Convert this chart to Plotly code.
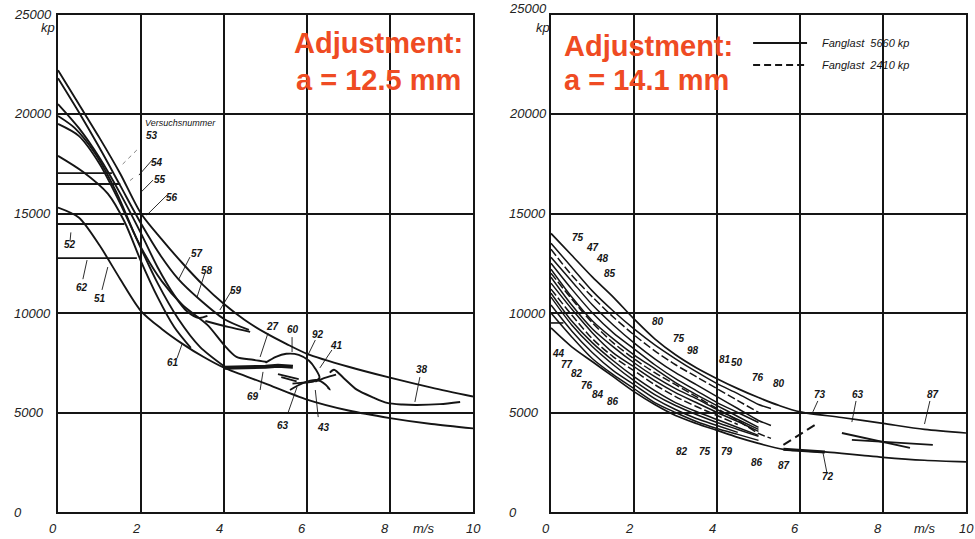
import plotly.graph_objects as go

# ---------------- data (left panel: a = 12.5 mm) ----------------
L_top_x = [0, 0.5, 1, 1.5, 2, 2.5, 3, 3.5, 4, 4.5, 5, 5.5, 6, 7, 8, 9, 10]
L_top_y = [22200, 20500, 18800, 17000, 15000, 13700, 12500, 11400, 10450, 9650, 9000, 8450, 7950, 7300, 6750, 6250, 5800]
L57_x = [0, 0.5, 1, 1.5, 2, 2.5, 2.9, 3.4, 4, 4.6]
L57_y = [21800, 20100, 18300, 16400, 14500, 12800, 11700, 10700, 9700, 9150]
L58_x = [0, 0.5, 1, 1.5, 2, 2.4, 2.8, 3.1, 3.4, 3.6]
L58_y = [20500, 19300, 17800, 16000, 14000, 12300, 10900, 10100, 9750, 9850]
LD_x = [0, 0.4, 0.9, 1.4, 1.9, 2.4, 2.9, 3.42, 4.02]
LD_y = [19900, 19300, 18000, 16100, 13700, 11500, 9700, 8300, 7300]
LE_x = [0, 0.5, 1, 1.5, 2, 2.5, 3, 3.6, 4.0, 4.3, 4.7, 5.04]
LE_y = [19500, 18900, 17500, 15500, 13300, 11600, 10400, 9400, 8400, 7800, 7650, 7540]
L61_x = [0, 0.6, 1.2, 1.6, 2, 2.4, 2.8, 3.2]
L61_y = [17900, 17100, 16000, 14600, 12600, 10800, 9300, 8250]
Llow_x = [0, 0.5, 1, 1.5, 2, 2.5, 3, 3.5, 4, 5, 6, 7, 8, 9, 10]
Llow_y = [15300, 14800, 13400, 11700, 10100, 9200, 8450, 7800, 7250, 6450, 5650, 5100, 4720, 4420, 4200]
L59_x = [3.55, 4.1, 4.63]
L59_y = [9600, 9300, 9050]
Lbold_x = [4.0, 4.5, 5.0, 5.3, 5.66]
Lbold_y = [7250, 7250, 7300, 7350, 7300]
L60_x = [5.0, 5.25, 5.5, 5.8, 6.05, 6.2, 6.3, 6.15, 5.9, 5.65]
L60_y = [7500, 7800, 7950, 7900, 7600, 7200, 6750, 6550, 6500, 6450]
L63a_x = [5.3, 5.8]
L63a_y = [6930, 6680]
L63b_x = [5.38, 5.75]
L63b_y = [6780, 6560]
L43_x = [5.59, 5.9, 6.24, 6.45, 6.55, 6.5]
L43_y = [6130, 6480, 6630, 6400, 6150, 6250]
L41_x = [6.2, 6.45, 6.7]
L41_y = [6550, 6750, 6900]
L38_x = [6.55, 6.65, 6.9, 7.2, 7.6, 7.93, 8.3, 8.65, 9.2, 9.69]
L38_y = [7000, 7150, 6700, 6150, 5750, 5480, 5400, 5380, 5420, 5530]
L_hor_y = [17030, 16480, 14470, 12760]
L_hor_end = [1.3, 1.5, 1.6, 1.9]

L_labels = [("53", 2.26, 18900), ("54", 2.38, 17540), ("55", 2.46, 16730), ("56", 2.75, 15780),
            ("57", 3.35, 13000), ("58", 3.6, 12160), ("59", 4.3, 11150), ("52", 0.29, 13420),
            ("62", 0.58, 11300), ("51", 1.01, 10750), ("61", 2.78, 7490), ("27", 5.18, 9300),
            ("60", 5.66, 9150), ("92", 6.27, 8900), ("41", 6.72, 8390), ("69", 4.7, 5780),
            ("63", 5.42, 4370), ("43", 6.39, 4270), ("38", 8.77, 7140)]
L_leaders = [(2.27, 17690, 1.95, 16930), (2.29, 16680, 1.98, 16030), (2.63, 15930, 2.14, 14920),
             (3.18, 12810, 2.9, 11660), (3.54, 12010, 3.35, 10800), (4.19, 11150, 3.9, 10150),
             (0.31, 14050, 0.29, 13600), (0.70, 12660, 0.6, 11700), (1.2, 12310, 1.06, 11160),
             (2.99, 8440, 2.87, 7740), (5.06, 8990, 4.87, 7790), (5.64, 8790, 5.64, 8040),
             (6.2, 8640, 6.0, 7790), (6.6, 8140, 6.31, 7240), (4.94, 7040, 4.87, 6130),
             (5.76, 6280, 5.54, 4970), (6.2, 6130, 6.27, 4770), (8.72, 6780, 8.6, 5530)]
L_dashed_leaders = [(1.9, 18190, 1.49, 17340), (1.81, 16780, 1.69, 16580)]

# ---------------- data (right panel: a = 14.1 mm) ----------------
R_x = [0, 0.5, 1, 1.5, 2, 2.5, 3, 3.5, 4, 4.5, 5, 5.3]
R_top_x = [0, 0.5, 1, 1.5, 2, 2.5, 3, 3.5, 4, 4.5, 5, 5.5, 6, 7, 8, 9, 10]
R_top_y = [14000, 12900, 11800, 10800, 9700, 8700, 7900, 7250, 6700, 6200, 5750, 5350, 5030, 4750, 4450, 4150, 3970]
R_curves_y = [
    [13500, 12300, 11100, 10100, 9200, 8400, 7700, 7050, 6450, 5950, 5400, 5200],
    [13200, 11900, 10800, 9800, 8900, 8100, 7400, 6800, 6200, 5600, 5000],
    [12800, 11600, 10400, 9400, 8500, 7700, 7000, 6400, 5800, 5200, 4600, 4350],
    [12500, 11200, 10000, 9000, 8200, 7400, 6700, 6100, 5500, 5000, 4500],
    [12200, 10800, 9600, 8700, 7900, 7200, 6500, 5900, 5350, 4800, 4250],
    [12000, 10700, 9500, 8500, 7700, 7000, 6400, 5800, 5200, 4600, 3950, 3700],
    [11800, 10400, 9200, 8300, 7500, 6800, 6200, 5700, 5150, 4650, 4150],
    [11500, 10200, 9000, 8000, 7300, 6600, 6000, 5500, 5000, 4550, 4050],
    [11200, 9900, 8700, 7800, 7100, 6400, 5800, 5300, 4850, 4400],
    [11000, 9600, 8500, 7600, 6800, 6100, 5500, 5050, 4650, 4250, 3850],
    [10800, 9400, 8300, 7400, 6600, 5900, 5350, 4900, 4500, 4150, 3800],
    [10400, 9100, 8000, 7100, 6400, 5700, 5150, 4700, 4350, 4000],
    [10000, 8800, 7700, 6900, 6200, 5500, 5000, 4550, 4200, 3900, 3600],
]
R_dashed = [False, True, False, False, False, True, False, False, True, False, False, False, False]
R_low_x = [0, 0.5, 1, 1.5, 2, 2.5, 3, 3.5, 4, 4.5, 5, 5.6, 6, 6.6, 7, 7.5, 8, 9, 10]
R_low_y = [9250, 8300, 7550, 6800, 6050, 5400, 4850, 4450, 4100, 3750, 3450, 3150, 3080, 3020, 2950, 2850, 2750, 2600, 2520]
R72_x = [5.6, 6.1, 6.6]
R72_y = [3150, 3080, 3020]
R73_x = [5.6, 6.43]
R73_y = [3370, 4470]
R63a_x = [7.01, 8.65]
R63a_y = [3970, 3220]
R63b_x = [7.25, 9.2]
R63b_y = [3620, 3370]
R_short_x = [0, 0.3]
R_short_y = [9500, 9500]

R_labels = [("75", 0.65, 13770), ("47", 0.99, 13270), ("48", 1.23, 12760), ("85", 1.42, 12010),
            ("80", 2.58, 9550), ("75", 3.08, 8740), ("98", 3.42, 8140), ("81", 4.19, 7640),
            ("50", 4.48, 7490), ("76", 4.99, 6780), ("80", 5.49, 6480), ("44", 0.17, 7990),
            ("77", 0.39, 7390), ("82", 0.63, 6980), ("76", 0.87, 6380), ("84", 1.13, 5880),
            ("86", 1.49, 5530), ("82", 3.16, 3020), ("75", 3.71, 3020), ("79", 4.24, 3020),
            ("86", 4.96, 2510), ("87", 5.61, 2360), ("73", 6.48, 5880), ("63", 7.4, 5880),
            ("87", 9.2, 5880), ("72", 6.67, 1760)]
R_leaders = [(6.43, 5580, 6.31, 5030), (7.35, 5580, 7.25, 4520), (9.13, 5580, 9.0, 4420),
             (6.55, 3020, 6.65, 1960)]

y_ticks = [0, 5000, 10000, 15000, 20000, 25000]
x_ticks = [0, 2, 4, 6, 8, 10]

# ---------------- figure ----------------
INK = "#151515"
RED = "#EF4B23"
FONT = "Liberation Sans"
fig = go.Figure()


def add_line(x, y, ax, width=1.8, dash="solid", shape="spline", color=INK):
    fig.add_trace(go.Scatter(x=x, y=y, mode="lines", xaxis=ax[0], yaxis=ax[1],
                             line=dict(color=color, width=width, dash=dash, shape=shape, smoothing=0.8),
                             hoverinfo="skip", showlegend=False))


LA = ("x", "y")
RA = ("x2", "y2")

for xs, ys in [(L_top_x, L_top_y), (L57_x, L57_y), (L58_x, L58_y), (LD_x, LD_y), (LE_x, LE_y),
               (L61_x, L61_y), (Llow_x, Llow_y), (L59_x, L59_y), (L60_x, L60_y), (L43_x, L43_y),
               (L41_x, L41_y), (L38_x, L38_y)]:
    add_line(xs, ys, LA, width=1.9)
add_line(L63a_x, L63a_y, LA, width=1.8, shape="linear")
add_line(L63b_x, L63b_y, LA, width=1.8, shape="linear")
add_line(Lbold_x, Lbold_y, LA, width=4, shape="linear")
for yv, xe in zip(L_hor_y, L_hor_end):
    add_line([0, xe], [yv, yv], LA, width=1.9, shape="linear")
for x0, y0, x1, y1 in L_leaders:
    add_line([x0, x1], [y0, y1], LA, width=0.9, shape="linear")
for x0, y0, x1, y1 in L_dashed_leaders:
    add_line([x0, x1], [y0, y1], LA, width=0.9, dash="4px,4px", shape="linear", color="#777")

add_line(R_top_x, R_top_y, RA, width=1.7)
for ys, d in zip(R_curves_y, R_dashed):
    add_line(R_x[:len(ys)], ys, RA, width=1.5, dash="8px,3px" if d else "solid")
add_line(R_low_x, R_low_y, RA, width=1.7)
add_line(R72_x, R72_y, RA, width=3, shape="linear")
add_line(R73_x, R73_y, RA, width=2, dash="9px,5px", shape="linear")
add_line(R63a_x, R63a_y, RA, width=1.8, shape="linear")
add_line(R63b_x, R63b_y, RA, width=1.8, shape="linear")
add_line(R_short_x, R_short_y, RA, width=1.6, shape="linear")
for x0, y0, x1, y1 in R_leaders:
    add_line([x0, x1], [y0, y1], RA, width=0.9, shape="linear")

ann = []
lab_font = dict(family=FONT, size=10, color=INK, style="italic", weight="bold")
for t, xv, yv in L_labels:
    ann.append(dict(text=t, x=xv, y=yv, xref="x", yref="y", showarrow=False, font=lab_font))
for t, xv, yv in R_labels:
    ann.append(dict(text=t, x=xv, y=yv, xref="x2", yref="y2", showarrow=False, font=lab_font))
ann.append(dict(text="Versuchsnummer", x=2.05, y=19550, xref="x", yref="y", xanchor="left",
                yanchor="middle", showarrow=False, font=dict(family=FONT, size=9, color=INK, style="italic")))

tick_font = dict(family=FONT, size=13, color="#222", style="italic")
for px_left, yr, top_shift in [(12, "y", 0), (507, "y2", 6)]:
    for v in y_ticks:
        ann.append(dict(text=str(v), x=px_left / 975, y=v, xref="paper", yref=yr, xanchor="left",
                        yanchor="middle", yshift=top_shift if v == 25000 else 0,
                        showarrow=False, font=tick_font))
    ann.append(dict(text="kp", x=(px_left + 27) / 975, y=24370, xref="paper",
                    yref=yr, xanchor="left", yanchor="middle", showarrow=False, font=tick_font))
for xr, ms in [("x", 8.8), ("x2", 9.0)]:
    for v in x_ticks:
        ann.append(dict(text=str(v), x=v, y=1 - 528 / 539, xref=xr, yref="paper", xshift=-5 if v < 10 else 0,
                        yanchor="middle", xanchor="center", showarrow=False, font=tick_font))
    ann.append(dict(text="m/s", x=ms, y=1 - 528 / 539, xref=xr, yref="paper", yanchor="middle",
                    xanchor="center", showarrow=False, font=tick_font))

red_font = dict(family=FONT, size=29, color=RED, weight="bold")
for txt, px, py in [("Adjustment:", 292, 43), ("a = 12.5 mm", 294, 80),
                    ("Adjustment:", 562, 46), ("a = 14.1 mm", 562, 80)]:
    ann.append(dict(text=txt, x=px / 975, y=1 - py / 539, xref="paper", yref="paper", xanchor="left",
                    yanchor="middle", showarrow=False, font=red_font))

leg_font = dict(family=FONT, size=11, color=INK, style="italic")
ann += [
    dict(text="Fanglast  5660 kp", x=6.48, y=23570, xref="x2", yref="y2", xanchor="left", yanchor="middle",
         showarrow=False, font=leg_font),
    dict(text="Fanglast  2410 kp", x=6.48, y=22460, xref="x2", yref="y2", xanchor="left", yanchor="middle",
         showarrow=False, font=leg_font),
]
shapes = [
    dict(type="line", xref="x2", yref="y2", x0=4.87, x1=6.17, y0=23570, y1=23570, line=dict(color=INK, width=2)),
    dict(type="line", xref="x2", yref="y2", x0=4.87, x1=6.17, y0=22460, y1=22460,
         line=dict(color=INK, width=2, dash="7px,4px")),
]

axis_common = dict(showgrid=True, gridcolor=INK, gridwidth=1.6, showline=True, linecolor=INK, linewidth=2,
                   mirror=True, zeroline=False, showticklabels=False, ticks="", fixedrange=True)
ydom = [1 - 512 / 539, 1 - 14.5 / 539]
fig.update_layout(
    width=975, height=539, margin=dict(l=0, r=0, t=0, b=0),
    paper_bgcolor="white", plot_bgcolor="white", showlegend=False,
    xaxis=dict(domain=[58 / 975, 473 / 975], range=[0, 10], dtick=2, anchor="y", **axis_common),
    yaxis=dict(domain=ydom, range=[0, 25000], dtick=5000, anchor="x", **axis_common),
    xaxis2=dict(domain=[551 / 975, 966 / 975], range=[0, 10], dtick=2, anchor="y2", **axis_common),
    yaxis2=dict(domain=ydom, range=[0, 25000], dtick=5000, anchor="x2", **axis_common),
    annotations=ann, shapes=shapes,
)
fig.write_html("out.html")
